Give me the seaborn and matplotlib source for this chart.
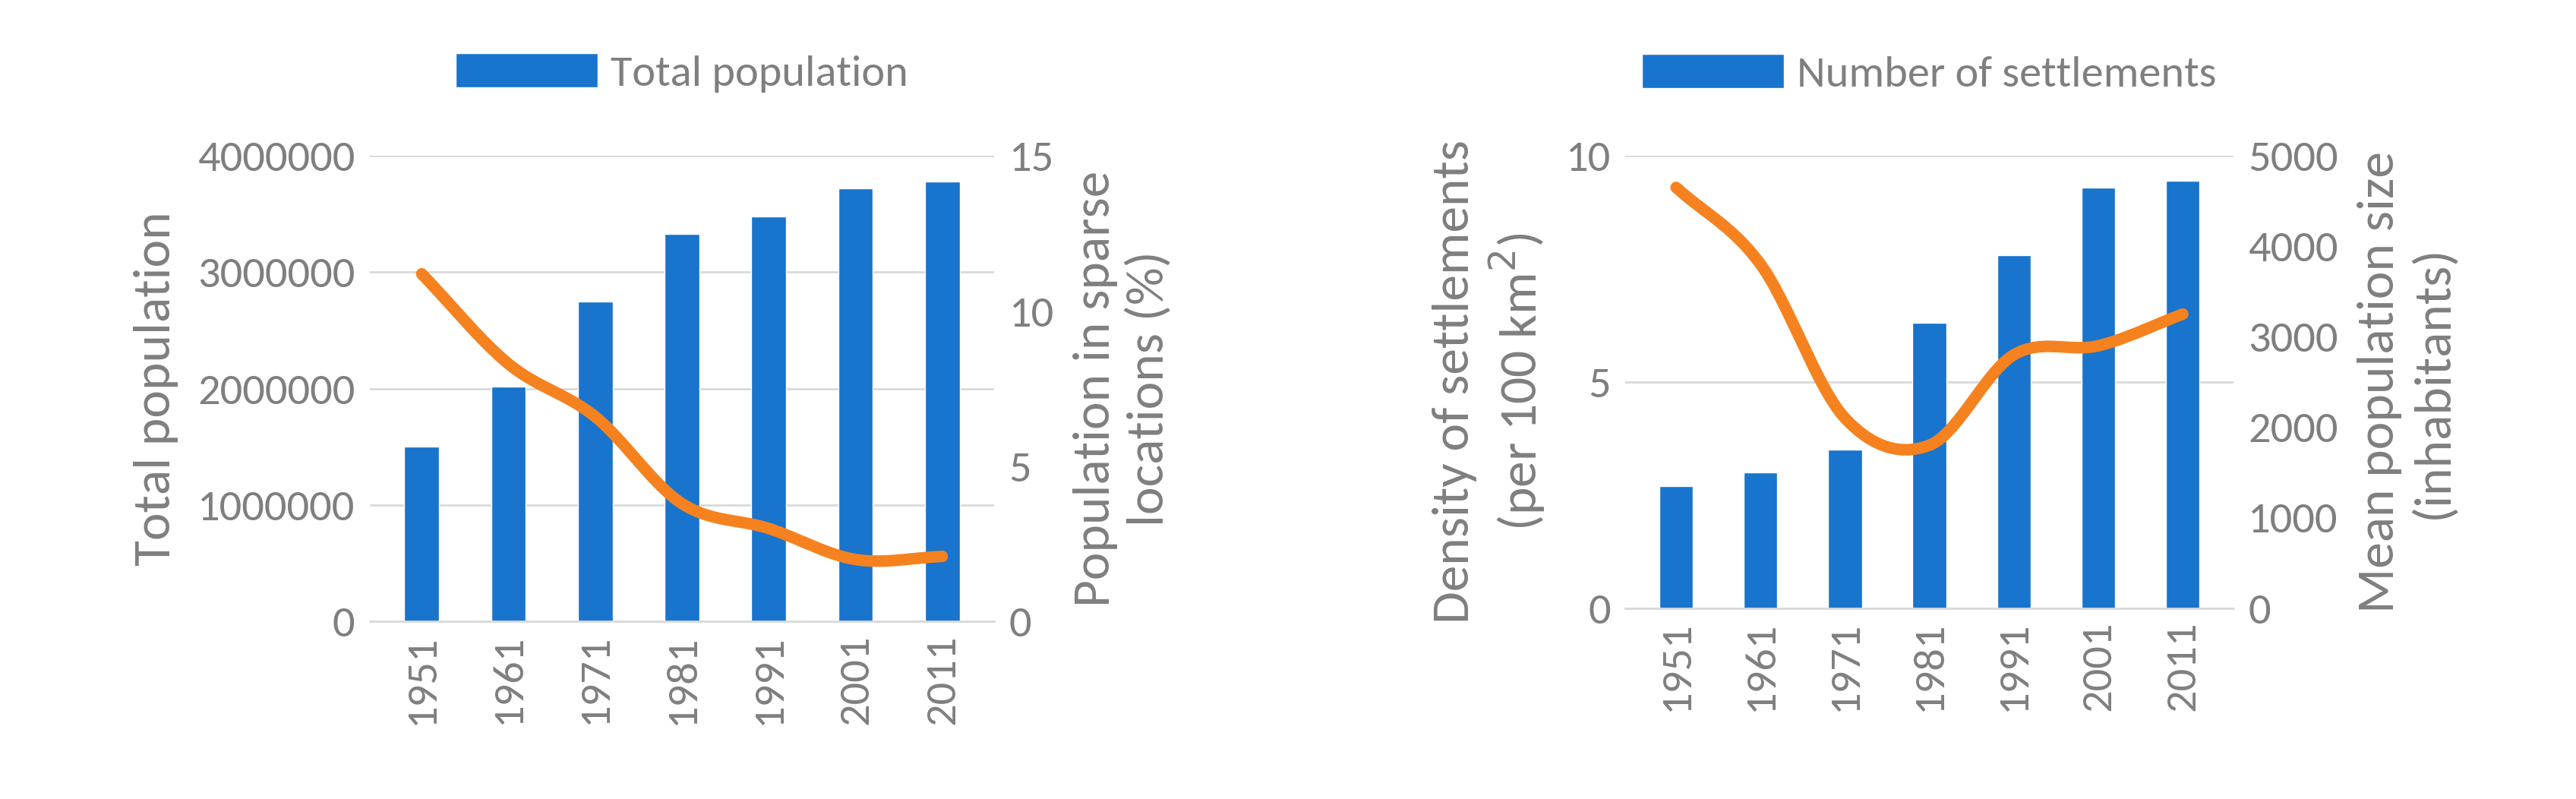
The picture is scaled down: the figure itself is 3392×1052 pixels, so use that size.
import matplotlib
matplotlib.use("Agg")
import matplotlib.pyplot as plt
import numpy as np
import seaborn as sns
import pandas as pd

years = ["1951", "1961", "1971", "1981", "1991", "2001", "2011"]
total_pop = [1500000, 2020000, 2750000, 3330000, 3480000, 3720000, 3780000]
sparse_pct = [11.2, 8.3, 6.6, 3.8, 3.0, 2.0, 2.1]
n_settle = [2.7, 3.0, 3.5, 6.3, 7.8, 9.3, 9.45]
mean_size = [4650, 3800, 2100, 1800, 2800, 2900, 3250]

sns.set_style("white")
plt.rcParams['font.family'] = ['Carlito', 'Open Sans', 'DejaVu Sans']
GREY = "#7f7f7f"
BLUE = "#1874cd"
ORANGE = "#f5821f"
TICK = 42
LAB = 50


def smooth(y, n=30):
    # Catmull-Rom curve through the points (like Excel's smoothed line)
    y = np.asarray(y, float)
    p = np.concatenate([[2 * y[0] - y[1]], y, [2 * y[-1] - y[-2]]])
    xs, ys = [], []
    for i in range(len(y) - 1):
        t = np.linspace(0, 1, n, endpoint=False)
        p0, p1, p2, p3 = p[i], p[i + 1], p[i + 2], p[i + 3]
        ys.append(0.5 * (2 * p1 + (-p0 + p2) * t + (2 * p0 - 5 * p1 + 4 * p2 - p3) * t ** 2
                         + (-p0 + 3 * p1 - 3 * p2 + p3) * t ** 3))
        xs.append(i + t)
    xs.append([len(y) - 1]); ys.append([y[-1]])
    return np.concatenate(xs), np.concatenate(ys)


def panel(rect, bars, line, bar_label, ylim, yticks, y2lim, y2ticks, ylab, y2lab):
    ax = fig.add_axes(rect)
    df = pd.DataFrame({"year": years, "v": bars})
    sns.barplot(data=df, x="year", y="v", color=BLUE, width=0.4, ax=ax,
                saturation=1, label=bar_label)
    ax.set_ylim(*ylim)
    ax.set_yticks(yticks)
    ax.set_yticklabels([f"{int(t)}" for t in yticks])
    ax.set_xlim(-0.6, 6.6)
    ax.grid(axis="y", color="#d9d9d9", lw=2)
    ax.set_axisbelow(True)
    for s in ax.spines.values():
        s.set_visible(False)
    ax.spines["bottom"].set_visible(True)
    ax.spines["bottom"].set_color("#d9d9d9")
    ax.spines["bottom"].set_linewidth(2)
    ax.tick_params(axis="x", labelrotation=90, labelsize=TICK, colors=GREY, length=0, pad=12)
    ax.tick_params(axis="y", labelsize=TICK, colors=GREY, length=0, pad=14)
    ax.set_xlabel("")
    ax.set_ylabel(ylab, fontsize=LAB, color=GREY, labelpad=18)
    ax2 = ax.twinx()
    sx, sy = smooth(line)
    sns.lineplot(x=sx, y=sy, color=ORANGE, lw=11, ax=ax2, solid_capstyle="round")
    ax2.set_ylim(*y2lim)
    ax2.set_yticks(y2ticks)
    for s in ax2.spines.values():
        s.set_visible(False)
    ax2.tick_params(axis="y", labelsize=TICK, colors=GREY, length=0, pad=14)
    ax2.set_ylabel(y2lab, fontsize=LAB, color=GREY, labelpad=18)
    leg = ax.legend(loc="lower center", bbox_to_anchor=(0.5, 1.05), frameon=False,
                    fontsize=TICK, handlelength=3.2, handleheight=0.8, handletextpad=0.3)
    for t in leg.get_texts():
        t.set_color(GREY)
    return ax


fig = plt.figure(figsize=(33.92, 10.52), dpi=100)
panel([0.1435, 0.222, 0.2425, 0.583], total_pop, sparse_pct, "Total population",
      (0, 4000000), [0, 1000000, 2000000, 3000000, 4000000], (0, 15), [0, 5, 10, 15],
      "Total population", "Population in sparse\nlocations (%)")
panel([0.631, 0.239, 0.236, 0.566], n_settle, mean_size, "Number of settlements",
      (0, 10), [0, 5, 10], (0, 5000), [0, 1000, 2000, 3000, 4000, 5000],
      "Density of settlements\n(per 100 km$^2$)", "Mean population size\n(inhabitants)")
fig.savefig("out.png", dpi=100)
